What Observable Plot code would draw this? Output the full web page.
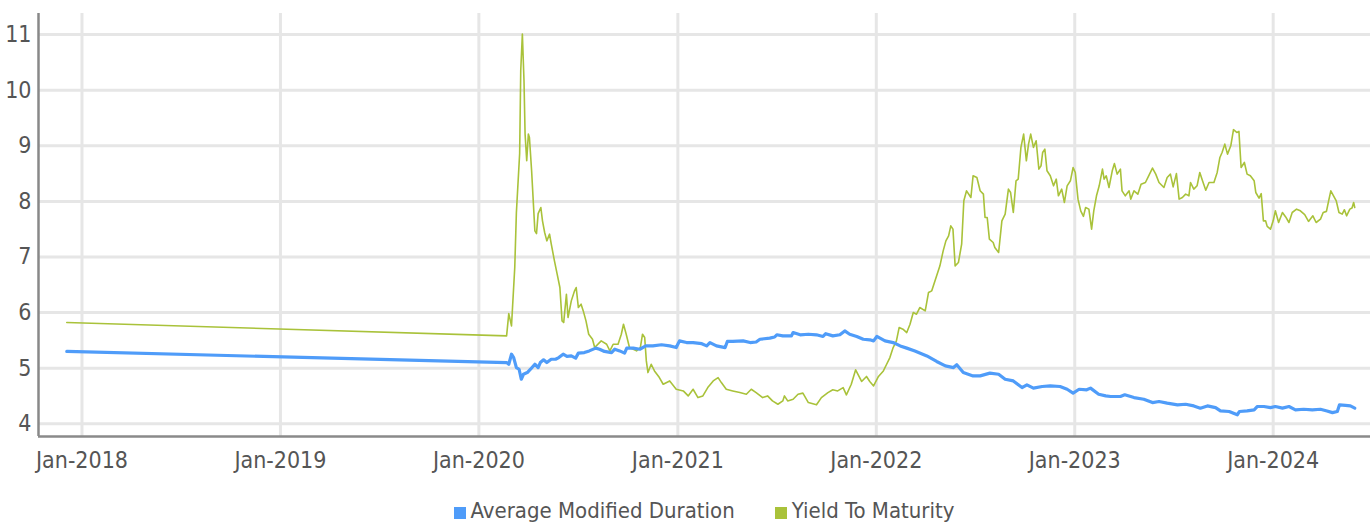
<!DOCTYPE html>
<html><head><meta charset="utf-8">
<script src="https://cdn.jsdelivr.net/npm/d3@7"></script>
<script src="https://cdn.jsdelivr.net/npm/@observablehq/plot@0.6"></script>
<style>
html,body{margin:0;padding:0;background:#fff;}
#chart{width:1370px;height:522px;overflow:hidden;font-family:"Liberation Sans Narrow","DejaVu Sans Condensed",sans-serif;}
#chart svg{display:block;}
.legend{display:flex;justify-content:center;gap:40px;padding-left:38px;font-size:22px;color:#555;line-height:24px;margin-top:9px;}
.legend .item{display:flex;align-items:center;}
.legend .sw{display:inline-block;width:12px;height:12px;margin-right:5px;margin-top:4px;}
</style></head><body><div id="chart"></div>
<script>
const seriesNames = ["Average Modified Duration", "Yield To Maturity"];
const seriesColors = ["#4f9cf9", "#a9c23a"];
const yTicks = [4, 5, 6, 7, 8, 9, 10, 11];
const xTickDates = ["2018-01-01","2019-01-01","2020-01-01","2021-01-01","2022-01-01","2023-01-01","2024-01-01"];
const xDomain = ["2017-10-13", "2024-06-28"];
const yDomain = [3.77, 11.38];

const durationDates = ["2017-12-04","2020-02-21","2020-02-25","2020-03-01","2020-03-05","2020-03-10","2020-03-15","2020-03-19","2020-03-23","2020-03-30","2020-04-05","2020-04-13","2020-04-19","2020-04-23","2020-04-29","2020-05-05","2020-05-13","2020-05-21","2020-05-27","2020-06-04","2020-06-11","2020-06-19","2020-06-27","2020-07-02","2020-07-13","2020-07-22","2020-08-03","2020-08-10","2020-08-19","2020-09-01","2020-09-07","2020-09-16","2020-09-25","2020-09-29","2020-10-11","2020-10-23","2020-11-03","2020-11-16","2020-12-02","2020-12-17","2020-12-29","2021-01-04","2021-01-17","2021-01-29","2021-02-14","2021-02-23","2021-03-01","2021-03-13","2021-03-29","2021-04-02","2021-04-12","2021-05-01","2021-05-14","2021-05-25","2021-06-01","2021-06-19","2021-06-28","2021-07-02","2021-07-13","2021-07-29","2021-08-01","2021-08-14","2021-08-29","2021-09-13","2021-09-25","2021-09-30","2021-10-13","2021-10-26","2021-11-04","2021-11-13","2021-11-26","2021-12-08","2021-12-20","2021-12-27","2022-01-02","2022-01-17","2022-02-01","2022-02-14","2022-02-26","2022-03-13","2022-04-04","2022-04-22","2022-05-08","2022-05-23","2022-05-29","2022-06-10","2022-06-28","2022-07-11","2022-07-29","2022-08-14","2022-08-26","2022-09-10","2022-09-26","2022-10-05","2022-10-17","2022-11-02","2022-11-17","2022-12-05","2022-12-18","2022-12-29","2023-01-09","2023-01-23","2023-01-30","2023-02-14","2023-02-27","2023-03-08","2023-03-26","2023-04-03","2023-04-20","2023-05-08","2023-05-24","2023-06-05","2023-06-20","2023-07-09","2023-07-24","2023-08-08","2023-08-20","2023-09-02","2023-09-17","2023-09-26","2023-10-12","2023-10-27","2023-10-31","2023-11-14","2023-11-27","2023-12-03","2023-12-15","2023-12-27","2024-01-05","2024-01-18","2024-01-30","2024-02-11","2024-02-26","2024-03-13","2024-03-28","2024-04-09","2024-04-19","2024-04-28","2024-05-02","2024-05-13","2024-05-22","2024-05-30"];
const durationValues = [5.30,5.10,5.07,5.25,5.19,5.01,4.98,4.80,4.89,4.92,4.98,5.07,5.01,5.10,5.15,5.10,5.16,5.16,5.19,5.25,5.21,5.22,5.18,5.27,5.28,5.31,5.36,5.34,5.30,5.28,5.34,5.31,5.27,5.36,5.36,5.34,5.40,5.40,5.42,5.40,5.37,5.49,5.46,5.46,5.44,5.40,5.46,5.40,5.37,5.48,5.48,5.49,5.46,5.47,5.52,5.54,5.56,5.60,5.58,5.58,5.64,5.60,5.61,5.60,5.57,5.62,5.58,5.60,5.67,5.61,5.57,5.52,5.51,5.49,5.57,5.49,5.46,5.40,5.36,5.31,5.22,5.12,5.04,5.01,5.06,4.92,4.86,4.86,4.91,4.89,4.80,4.77,4.65,4.70,4.64,4.67,4.68,4.67,4.62,4.55,4.62,4.61,4.64,4.53,4.50,4.49,4.49,4.52,4.47,4.44,4.38,4.40,4.37,4.34,4.35,4.32,4.28,4.32,4.29,4.23,4.22,4.16,4.22,4.23,4.25,4.31,4.31,4.29,4.31,4.28,4.31,4.25,4.26,4.25,4.26,4.23,4.20,4.22,4.34,4.33,4.32,4.28];

const ytmDates = ["2017-12-04","2020-02-21","2020-02-25","2020-03-01","2020-03-07","2020-03-10","2020-03-16","2020-03-18","2020-03-21","2020-03-24","2020-03-26","2020-03-29","2020-04-01","2020-04-03","2020-04-07","2020-04-13","2020-04-16","2020-04-19","2020-04-24","2020-04-27","2020-05-01","2020-05-05","2020-05-10","2020-05-13","2020-05-19","2020-05-24","2020-05-29","2020-06-02","2020-06-05","2020-06-10","2020-06-13","2020-06-19","2020-06-25","2020-06-28","2020-07-02","2020-07-07","2020-07-11","2020-07-16","2020-07-21","2020-07-28","2020-08-01","2020-08-13","2020-08-23","2020-08-29","2020-09-04","2020-09-13","2020-09-19","2020-09-23","2020-09-28","2020-10-04","2020-10-17","2020-10-24","2020-10-28","2020-11-01","2020-11-04","2020-11-07","2020-11-13","2020-11-19","2020-11-28","2020-12-05","2020-12-17","2020-12-29","2021-01-11","2021-01-20","2021-01-29","2021-02-07","2021-02-16","2021-02-25","2021-03-07","2021-03-16","2021-03-22","2021-03-31","2021-04-12","2021-04-25","2021-05-07","2021-05-16","2021-05-25","2021-06-06","2021-06-15","2021-06-24","2021-07-04","2021-07-13","2021-07-16","2021-07-22","2021-08-01","2021-08-10","2021-08-19","2021-08-29","2021-09-13","2021-09-22","2021-10-04","2021-10-13","2021-10-22","2021-11-01","2021-11-07","2021-11-16","2021-11-24","2021-12-05","2021-12-14","2021-12-20","2021-12-27","2022-01-05","2022-01-14","2022-01-20","2022-01-26","2022-02-01","2022-02-07","2022-02-12","2022-02-19","2022-02-26","2022-03-04","2022-03-10","2022-03-16","2022-03-22","2022-04-01","2022-04-07","2022-04-13","2022-04-22","2022-04-28","2022-05-04","2022-05-09","2022-05-14","2022-05-18","2022-05-22","2022-05-26","2022-06-01","2022-06-07","2022-06-11","2022-06-16","2022-06-24","2022-06-28","2022-07-05","2022-07-11","2022-07-17","2022-07-20","2022-07-24","2022-07-28","2022-08-04","2022-08-07","2022-08-14","2022-08-20","2022-08-26","2022-09-01","2022-09-05","2022-09-10","2022-09-15","2022-09-19","2022-09-24","2022-09-29","2022-10-04","2022-10-08","2022-10-12","2022-10-17","2022-10-22","2022-10-27","2022-10-31","2022-11-03","2022-11-07","2022-11-11","2022-11-17","2022-11-23","2022-11-28","2022-12-02","2022-12-08","2022-12-13","2022-12-18","2022-12-24","2022-12-29","2023-01-02","2023-01-07","2023-01-12","2023-01-17","2023-01-21","2023-01-27","2023-02-01","2023-02-05","2023-02-10","2023-02-15","2023-02-21","2023-02-24","2023-02-28","2023-03-05","2023-03-11","2023-03-15","2023-03-20","2023-03-26","2023-03-29","2023-04-04","2023-04-11","2023-04-14","2023-04-20","2023-04-27","2023-05-03","2023-05-11","2023-05-17","2023-05-24","2023-05-30","2023-06-05","2023-06-14","2023-06-20","2023-06-26","2023-07-01","2023-07-07","2023-07-12","2023-07-18","2023-07-24","2023-07-30","2023-08-02","2023-08-08","2023-08-14","2023-08-19","2023-08-24","2023-08-30","2023-09-05","2023-09-14","2023-09-20","2023-09-25","2023-09-29","2023-10-04","2023-10-09","2023-10-15","2023-10-20","2023-10-26","2023-10-30","2023-11-03","2023-11-09","2023-11-14","2023-11-20","2023-11-27","2023-11-30","2023-12-06","2023-12-10","2023-12-14","2023-12-18","2023-12-21","2023-12-27","2024-01-01","2024-01-05","2024-01-11","2024-01-18","2024-01-24","2024-01-30","2024-02-05","2024-02-13","2024-02-20","2024-02-28","2024-03-06","2024-03-14","2024-03-20","2024-03-28","2024-04-02","2024-04-08","2024-04-12","2024-04-16","2024-04-21","2024-04-26","2024-05-01","2024-05-07","2024-05-11","2024-05-15","2024-05-21","2024-05-25","2024-05-28","2024-05-30"];
const ytmValues = [5.82,5.58,5.98,5.76,6.81,7.80,8.86,10.35,11.01,10.17,9.21,8.73,9.21,9.15,8.55,7.47,7.42,7.78,7.89,7.65,7.44,7.29,7.41,7.24,6.93,6.69,6.45,5.85,5.82,6.33,5.91,6.21,6.39,6.45,6.09,6.15,6.03,5.85,5.61,5.52,5.37,5.49,5.43,5.31,5.43,5.43,5.61,5.79,5.61,5.37,5.31,5.37,5.61,5.55,5.13,4.92,5.07,4.95,4.83,4.71,4.77,4.62,4.59,4.50,4.62,4.47,4.50,4.65,4.77,4.83,4.74,4.62,4.59,4.56,4.53,4.62,4.56,4.47,4.50,4.41,4.35,4.41,4.50,4.41,4.44,4.53,4.55,4.38,4.34,4.47,4.56,4.61,4.59,4.65,4.52,4.71,4.97,4.76,4.85,4.76,4.68,4.85,4.95,5.07,5.19,5.37,5.49,5.73,5.70,5.64,5.79,6.00,5.97,6.09,6.03,6.36,6.39,6.66,6.84,7.11,7.29,7.38,7.56,7.50,6.84,6.90,7.23,8.01,8.19,8.07,8.46,8.43,8.19,8.13,7.71,7.71,7.32,7.26,7.17,7.08,7.65,7.77,8.22,8.16,7.80,8.37,8.40,8.97,9.21,8.73,9.03,9.21,8.97,9.09,8.58,8.64,8.88,8.94,8.55,8.46,8.28,8.40,8.10,8.22,7.98,8.28,8.37,8.61,8.52,8.04,7.83,7.73,7.89,7.86,7.50,7.83,8.10,8.28,8.58,8.40,8.46,8.25,8.55,8.68,8.49,8.58,8.19,8.10,8.19,8.04,8.19,8.13,8.31,8.34,8.46,8.60,8.49,8.34,8.25,8.43,8.49,8.26,8.50,8.04,8.07,8.13,8.10,8.34,8.22,8.28,8.52,8.37,8.20,8.34,8.34,8.52,8.79,8.88,9.03,8.85,9.00,9.29,9.24,9.26,8.61,8.70,8.49,8.46,8.37,8.16,8.06,8.14,7.65,7.65,7.55,7.50,7.65,7.83,7.62,7.80,7.72,7.62,7.80,7.86,7.83,7.76,7.64,7.74,7.62,7.68,7.80,7.82,8.01,8.19,8.10,8.01,7.80,7.77,7.85,7.74,7.86,7.88,7.98,7.89];

const parse = d3.utcParse("%Y-%m-%d");
const duration = durationDates.map((d, i) => ({date: parse(d), value: durationValues[i]}));
const ytm = ytmDates.map((d, i) => ({date: parse(d), value: ytmValues[i]}));
const xTicks = xTickDates.map(parse);
const fontFamily = '"Liberation Sans Narrow","DejaVu Sans Condensed",sans-serif';

const plot = Plot.plot({
  width: 1370,
  height: 490,
  marginLeft: 38,
  marginRight: 0,
  marginTop: 13,
  marginBottom: 54,
  style: {fontFamily, fontSize: "23px", color: "#555", background: "#fff", overflow: "visible"},
  x: {type: "utc", domain: xDomain.map(parse)},
  y: {domain: yDomain},
  marks: [
    Plot.gridY(yTicks, {stroke: "#e6e6e6", strokeOpacity: 1, strokeWidth: 3}),
    Plot.gridX(xTicks, {stroke: "#e6e6e6", strokeOpacity: 1, strokeWidth: 3}),
    Plot.axisY(yTicks, {tickSize: 0, tickPadding: 7, label: null, fill: "#555", tickFormat: d => String(d)}),
    Plot.axisX(xTicks, {tickSize: 0, tickPadding: 15, label: null, tickFormat: d3.utcFormat("%b-%Y"), fill: "#555"}),
    Plot.ruleX([parse(xDomain[0])], {stroke: "#888", strokeWidth: 2.5}),
    Plot.ruleY([yDomain[0]], {stroke: "#8a8a8a", strokeWidth: 2.5}),
    Plot.lineY(ytm, {x: "date", y: "value", stroke: seriesColors[1], strokeWidth: 1.6}),
    Plot.lineY(duration, {x: "date", y: "value", stroke: seriesColors[0], strokeWidth: 3.2})
  ]
});

const chart = document.getElementById("chart");
chart.appendChild(plot);
const legend = document.createElement("div");
legend.className = "legend";
seriesNames.forEach((name, i) => {
  const item = document.createElement("div");
  item.className = "item";
  const sw = document.createElement("span");
  sw.className = "sw";
  sw.style.background = seriesColors[i];
  const label = document.createElement("span");
  label.textContent = name;
  item.appendChild(sw);
  item.appendChild(label);
  legend.appendChild(item);
});
chart.appendChild(legend);
</script>
</body></html>
